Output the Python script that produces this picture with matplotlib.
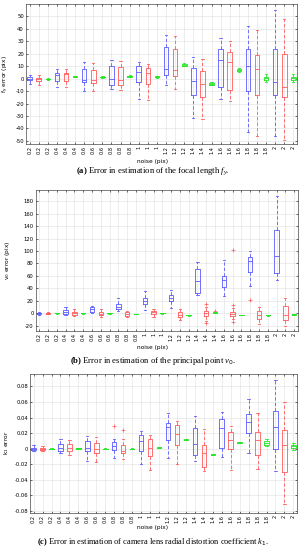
import numpy as np
import matplotlib
matplotlib.use("Agg")
import matplotlib.pyplot as plt

plt.rcParams['font.family'] = ['DejaVu Sans']
plt.rcParams['mathtext.fontset'] = 'custom'
plt.rcParams['mathtext.rm'] = 'DejaVu Sans'
plt.rcParams['mathtext.it'] = 'Liberation Serif:italic'
plt.rcParams['mathtext.bf'] = 'Liberation Serif:bold'

# -----------------------------
# Data
# -----------------------------
NOISE = [0.2, 0.4, 0.6, 0.8, 1, 1.2, 1.4, 1.6, 1.8, 2]
METHODS = ["blue", "red", "green"]

# each row: (median, q1, q3, whisker low, whisker high); order per noise: blue, red, green
FY_STATS = [
    (0, -1.3, 1.3, -4.5, 3), (-0.5, -1.5, 0.8, -5, 3), (-0.3, -0.6, 0, -1, 0.5),
    (3.2, -1.6, 4.3, -6.5, 8), (3.5, -1.6, 4.6, -6.5, 8), (1.6, 1.3, 1.9, 1.0, 2.2),
    (-0.8, -2.7, 7.5, -10, 13.7), (-1.1, -3.2, 7.3, -10.2, 12.9), (1.3, 1.0, 1.6, 0.7, 1.9),
    (-0.5, -5.4, 10.2, -8.6, 15), (-1.3, -5.4, 9.7, -9.4, 14.5), (1.9, 1.5, 2.3, 1.1, 2.7),
    (5.1, -2.4, 10.5, -16, 13.7), (4.3, -4, 8.9, -17, 12.1), (1.6, 1.2, 2.0, 0.8, 2.4),
    (8.1, 3.2, 25.8, -5.4, 34.7), (7, 1.9, 23.7, -8, 33.9), (11.3, 10.5, 12, 10, 12.5),
    (-1.6, -13.2, 8.9, -31.5, 17.7), (-4.3, -14.5, 5.9, -32.3, 15.6), (-4, -4.8, -3.2, -5.3, -2.7),
    (15.3, -7, 24.2, -16, 32.8), (13.7, -9.4, 21.8, -18.3, 30.4), (7, 6, 8, 5.3, 8.7),
    (10.2, -10.2, 24.2, -42.5, 42.5), (7.5, -13.4, 18.8, -45.7, 39.2), (0.5, -0.8, 1.6, -2.7, 3.5),
    (-3, -12.9, 24.2, -46.2, 54.8), (-6.5, -14.5, 19.9, -49.5, 47.8), (0.5, -0.8, 1.6, -2.5, 4),
]
FY_FLIERS = {}

V0_STATS = [
    (0, -1, 1, -2, 2), (0, -1, 0.5, -1.5, 1.5), (0, -0.3, 0.3, -0.6, 0.6),
    (1.6, -1, 5.3, -2.7, 10), (0, -3.2, 2.1, -4.8, 6.4), (0, -0.3, 0.3, -0.6, 0.6),
    (7, 2.7, 10.7, 0.5, 12), (-0.5, -3.2, 2.7, -6.4, 6.4), (0, -0.3, 0.3, -0.6, 0.6),
    (10.7, 6.4, 14.4, 3.7, 25), (-0.5, -3.7, 2.7, -6.4, 4.3), (-1, -1.3, -0.7, -1.6, -0.4),
    (20, 15, 25, 5, 35), (1.6, -1.6, 4.3, -5.9, 6.4), (0, -0.3, 0.3, -0.6, 0.6),
    (24.3, 20, 28.6, 8, 38), (-2.1, -5.4, 1.6, -10.7, 6.4), (-3.2, -3.5, -2.9, -3.8, -2.6),
    (51.6, 32.9, 70.8, 29, 82.6), (0, -4.3, 3.7, -12.8, 10.7), (1.6, 1.2, 2, 0.8, 2.4),
    (53, 42.5, 60.6, 28, 85), (-1, -4.3, 1.6, -10, 8), (-2.7, -3, -2.4, -3.3, -2.1),
    (84, 67, 90, 44, 99.7), (-2, -9.6, 3.7, -17, 10.7), (-3.2, -3.5, -2.9, -3.8, -2.6),
    (91.7, 64, 133, 53, 188), (-2.7, -10.7, 12, -20, 25), (-1.6, -2, -1.2, -2.4, -0.8),
]
V0_FLIERS = {19: [15, -16], 20: [4], 22: [102, 14, -14], 24: [22]}

K1_STATS = [
    (0, -0.0016, 0.0014, -0.003, 0.0047), (0, -0.0015, 0.0013, -0.003, 0.004), (0, -0.0003, 0.0003, -0.0006, 0.0006),
    (0.0014, -0.0028, 0.0064, -0.006, 0.012), (0.001, -0.003, 0.0056, -0.008, 0.011), (0.0005, 0.0002, 0.0008, -0.0001, 0.0011),
    (0.0005, -0.0028, 0.0094, -0.016, 0.0165), (0, -0.0053, 0.0073, -0.0175, 0.015), (0, -0.0003, 0.0003, -0.0006, 0.0006),
    (0.003, -0.0011, 0.0081, -0.0117, 0.0127), (-0.0024, -0.0049, 0.0052, -0.0137, 0.013), (0, -0.0003, 0.0003, -0.0006, 0.0006),
    (0.0094, -0.0028, 0.0173, -0.02, 0.023), (0.0014, -0.009, 0.013, -0.027, 0.0174), (0.0014, 0.0011, 0.0017, 0.0008, 0.002),
    (0.0274, 0.0115, 0.0337, -0.0117, 0.0463), (0.019, 0.0043, 0.0304, -0.02, 0.0354), (0.0118, 0.0114, 0.0122, 0.011, 0.0126),
    (0.0064, -0.0074, 0.0262, -0.016, 0.042), (-0.0049, -0.023, 0.0052, -0.028, 0.026), (-0.007, -0.0074, -0.0066, -0.0078, -0.0062),
    (0.0266, 0.001, 0.0388, -0.0104, 0.047), (0.0115, 0, 0.0211, -0.027, 0.0287), (0.0077, 0.0073, 0.0081, 0.0069, 0.0085),
    (0.035, 0.0198, 0.0442, -0.006, 0.0644), (0.0115, -0.0074, 0.022, -0.026, 0.0463), (0.0077, 0.005, 0.01, 0.003, 0.012),
    (0.028, 0, 0.048, -0.028, 0.0884), (0.0043, -0.0298, 0.0237, -0.0713, 0.06), (0.003, 0.001, 0.005, -0.001, 0.007),
]
K1_FLIERS = {9: [0.0287], 10: [0.0245]}

XLABELS = [f"{n:g}" for n in NOISE for _ in METHODS]

COLORS = {"blue": "#5a5aff", "red": "#ff5a5a", "green": "#22e622"}

# -----------------------------
# Figure
# -----------------------------
W, H = 306, 550
fig = plt.figure(figsize=(W / 100, H / 100), dpi=100)


def px_axes(left, top, right, bottom):
    return fig.add_axes([left / W, 1 - bottom / H, (right - left) / W, (bottom - top) / H])


def draw_panel(ax, stats, fliers, ylim, yticks, ylabel, ylabel_x, ymid):
    for k, m in enumerate(METHODS):
        idx = [i for i in range(len(stats)) if i % 3 == k]
        bx = []
        for i in idx:
            med, q1, q3, lo, hi = stats[i]
            bx.append(dict(med=med, q1=q1, q3=q3, whislo=lo, whishi=hi,
                           fliers=fliers.get(i, [])))
        c = COLORS[m]
        ax.bxp(bx, positions=[i + 1 for i in idx], widths=0.5, capwidths=0.25,
               showfliers=True, manage_ticks=False,
               boxprops=dict(color=c, lw=0.6),
               whiskerprops=dict(color=c, lw=0.6, ls=(0, (4, 2.5))),
               capprops=dict(color=c, lw=0.6),
               medianprops=dict(color=c, lw=0.6),
               flierprops=dict(marker='+', markeredgecolor='#ff5a5a',
                               markersize=2.5, markeredgewidth=0.5))
    ax.set_xlim(0.6, 30.4)
    ax.set_ylim(*ylim)
    ax.set_xticks(np.arange(1, 31))
    ax.set_xticklabels(XLABELS, rotation=90, fontsize=3.6)
    ax.set_yticks(yticks)
    ax.set_yticklabels([f"{v:g}" for v in yticks], fontsize=3.8)
    ax.tick_params(direction='in', top=True, right=True, length=1.6, width=0.4, pad=1.5)
    ax.grid(True, color='#e3e3e3', lw=0.45)
    ax.set_axisbelow(True)
    for s in ax.spines.values():
        s.set_linewidth(0.45)
        s.set_color('#333333')
    fig.text(ylabel_x / W, 1 - ymid / H, ylabel, rotation=90, ha='center', va='center', fontsize=4.2)


# (a)
ax1 = px_axes(26, 4, 297, 144)
draw_panel(ax1, FY_STATS, FY_FLIERS, (-52.5, 60), np.arange(-50, 51, 10),
           r"f$_\mathrm{y}$ error (pix)", 6, 74)
fig.text(0.5, 1 - 162 / H, "noise (pix)", ha='center', va='center', fontsize=4.2)
fig.text(0.5, 1 - 171 / H, r"$\mathbf{(a)}$ Error in estimation of the focal length $f_y$.",
         ha='center', va='center', fontsize=6.2, family='Liberation Serif')

# (b)
ax2 = px_axes(35.7, 190, 297.7, 330.7)
draw_panel(ax2, V0_STATS, V0_FLIERS, (-28, 198), np.arange(-20, 181, 20),
           r"v$_\mathrm{0}$ error (pix)", 8, 260)
fig.text(0.5, 1 - 347 / H, "noise (pix)", ha='center', va='center', fontsize=4.2)
fig.text(0.5, 1 - 361 / H, r"$\mathbf{(b)}$ Error in estimation of the principal point $v_0$.",
         ha='center', va='center', fontsize=6.2, family='Liberation Serif')

# (c)
ax3 = px_axes(30, 374, 297, 513)
draw_panel(ax3, K1_STATS, K1_FLIERS, (-0.0825, 0.096), np.round(np.arange(-0.08, 0.081, 0.02), 2),
           r"k$_\mathrm{1}$ error", 7, 443)
fig.text(0.5, 1 - 528 / H, "noise (pix)", ha='center', va='center', fontsize=4.2)
fig.text(0.5, 1 - 542 / H,
         r"$\mathbf{(c)}$ Error in estimation of camera lens radial distortion coefficient $k_1$.",
         ha='center', va='center', fontsize=6.0, family='Liberation Serif')

fig.savefig("out.png", dpi=100)
